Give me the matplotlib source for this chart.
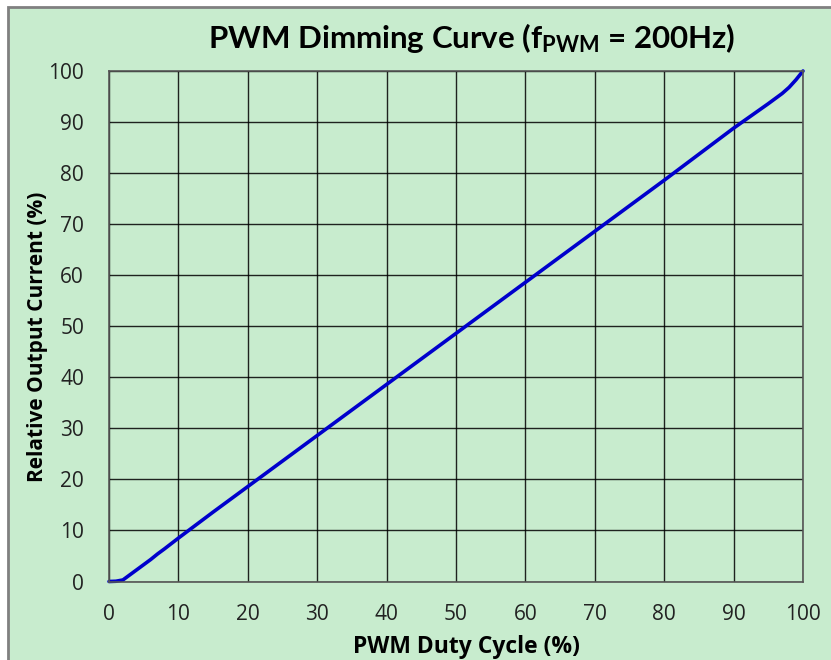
import matplotlib
matplotlib.use("Agg")
import matplotlib.pyplot as plt
from matplotlib.patches import Rectangle

# PWM dimming curve readings
duty = [0, 1, 2, 3, 4, 5, 6, 7, 8, 10, 15, 20, 25, 30, 35, 40, 45, 50,
        55, 60, 65, 70, 75, 80, 85, 90, 95, 97, 98, 99, 100]
current = [0, 0.05, 0.3, 1.3, 2.3, 3.3, 4.3, 5.4, 6.4, 8.5, 13.6, 18.6, 23.6,
           28.6, 33.6, 38.6, 43.6, 48.6, 53.6, 58.6, 63.6, 68.6, 73.6, 78.6,
           83.7, 88.8, 93.6, 95.6, 96.8, 98.3, 100]
xticks = list(range(0, 101, 10))
yticks = list(range(0, 101, 10))

bg = "#c8ecce"
W, H = 831, 660

plt.rcParams["font.family"] = ["Open Sans", "DejaVu Sans"]
plt.rcParams["mathtext.fontset"] = "custom"
plt.rcParams["mathtext.rm"] = "Lato:bold"
plt.rcParams["mathtext.it"] = "Lato:bold"
plt.rcParams["mathtext.bf"] = "Lato:bold"

fig = plt.figure(figsize=(W / 100, H / 100), dpi=100)
fig.patch.set_facecolor("white")
# outer chart frame (right/bottom edges fall outside the image)
fig.patches.append(Rectangle((8 / W, -0.05), 1.1, 1 - 7 / H + 0.05,
                             transform=fig.transFigure, facecolor=bg,
                             edgecolor="#808080", linewidth=2, zorder=0))

ax = fig.add_axes([109 / W, 1 - 581.5 / H, (803 - 109) / W, (581.5 - 71) / H])
ax.set_zorder(2)
ax.set_facecolor(bg)
ax.set_xlim(0, 100)
ax.set_ylim(0, 100)
ax.set_xticks(xticks)
ax.set_yticks(yticks)
ax.grid(True, color="black", linewidth=1.0, alpha=0.85)
ax.set_axisbelow(True)
for s in ax.spines.values():
    s.set_color("#555555")
    s.set_linewidth(1.2)
ax.tick_params(length=0, labelsize=15, colors="#222222")
ax.tick_params(axis="y", pad=18)
ax.tick_params(axis="x", pad=16)

ax.plot(duty, current, color="#0000cc", linewidth=2.6, solid_capstyle="round",
        clip_on=False)

ax.set_xlabel("PWM Duty Cycle (%)", fontsize=16.5, fontweight="bold", va="baseline")
ax.set_ylabel("Relative Output Current (%)", fontsize=15, fontweight="bold", va="baseline")
ax.xaxis.set_label_coords(0.515, -0.140)
ax.yaxis.set_label_coords(-0.095, 0.479)

fig.text(472 / W, 1 - 38 / H, r"PWM Dimming Curve (f$_{\mathrm{PWM}}$ = 200Hz)",
         family="Lato", fontweight="bold", fontsize=22.5, ha="center", va="center",
         zorder=3)

fig.savefig("out.png", dpi=100, facecolor=fig.get_facecolor())
